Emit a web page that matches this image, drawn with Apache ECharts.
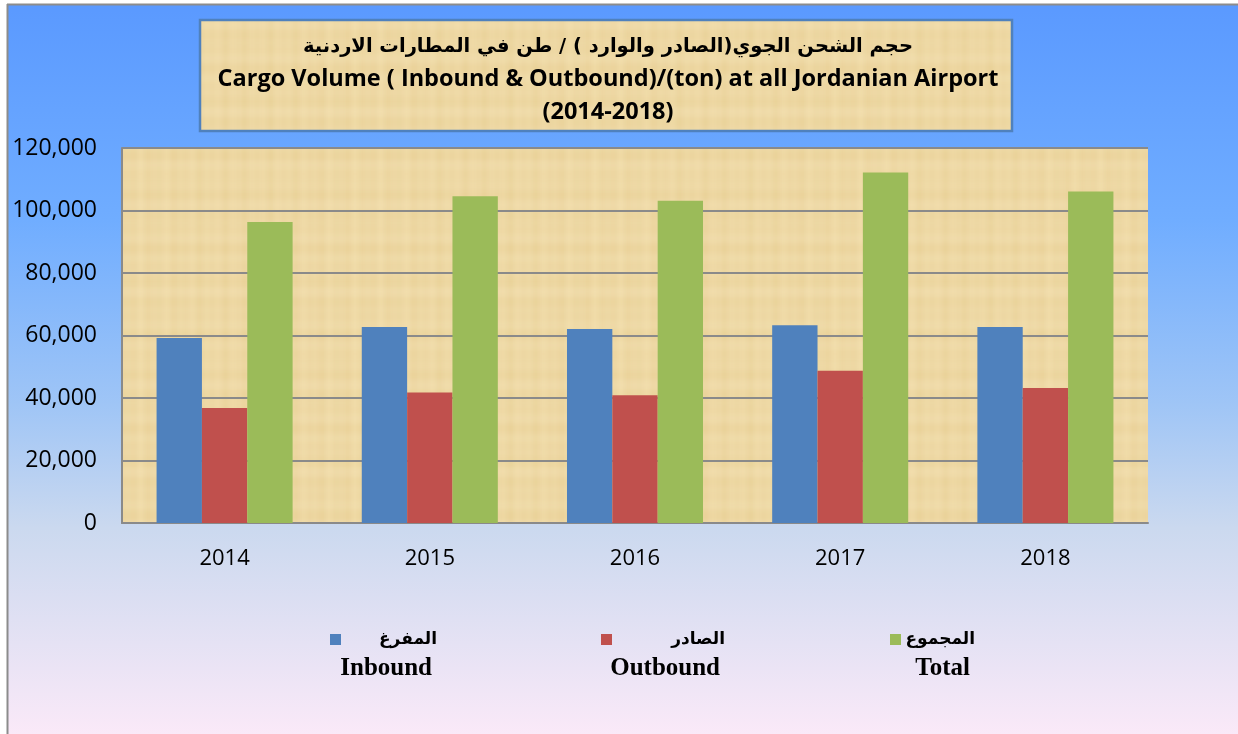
<!DOCTYPE html>
<html>
<head>
<meta charset="utf-8">
<script src="https://cdn.jsdelivr.net/npm/echarts@6/dist/echarts.min.js"></script>
<style>
html,body{margin:0;padding:0;background:#fff;}
#main{width:1238px;height:734px;}
</style>
</head>
<body>
<div id="main"></div>
<script>
// ---- data ----
const years = ['2014', '2015', '2016', '2017', '2018'];
const inbound = [59200, 62700, 62100, 63300, 62700];
const outbound = [36800, 41800, 40900, 48700, 43200];
const total = [96300, 104600, 103100, 112200, 106100];
const seriesNamesAr = ['المفرغ', 'الصادر', 'المجموع'];
const seriesNamesEn = ['Inbound', 'Outbound', 'Total'];
const titleAr = 'حجم الشحن الجوي(الصادر والوارد ) / طن في المطارات الاردنية';
const titleEn = 'Cargo Volume ( Inbound & Outbound)/(ton) at all Jordanian Airport';
const titleYears = '(2014-2018)';
const yTicks = {min: 0, max: 120000, interval: 20000};

// ---- style ----
const colors = ['#4f81bd', '#c0504d', '#9bbb59'];
const titleFont = "'Open Sans', 'DejaVu Sans', sans-serif";
const axisFont = "'Open Sans', 'Liberation Sans', sans-serif";
const serifFont = "'Liberation Serif', 'DejaVu Serif', serif";

// decorative parchment texture (deterministic)
function makeParchment() {
  const c = document.createElement('canvas');
  c.width = 240; c.height = 180;
  const g = c.getContext('2d');
  g.fillStyle = '#efd9a4';
  g.fillRect(0, 0, c.width, c.height);
  for (let x = 0; x < c.width; x++) {
    const a = 0.5 + 0.5 * Math.sin(x * 0.37) * Math.sin(x * 0.113 + 1.3);
    g.fillStyle = 'rgba(190,145,60,' + (a * 0.09).toFixed(3) + ')';
    g.fillRect(x, 0, 1, c.height);
  }
  for (let y = 0; y < c.height; y++) {
    const a = 0.5 + 0.5 * Math.sin(y * 0.29 + 0.7) * Math.sin(y * 0.071);
    g.fillStyle = 'rgba(255,245,215,' + (a * 0.18).toFixed(3) + ')';
    g.fillRect(0, y, c.width, 1);
  }
  return c;
}
const parchment = {image: makeParchment(), repeat: 'repeat'};

const chart = echarts.init(document.getElementById('main'), null, {renderer: 'canvas'});

const legendPos = [
  {left: 325, width: 91},
  {left: 596, width: 108},
  {left: 885, width: 69}
];
const engRight = [432, 720, 970];

const seriesData = [inbound, outbound, total];

const option = {
  backgroundColor: {
    type: 'linear', x: 0, y: 0, x2: 0, y2: 1,
    colorStops: [
      {offset: 0, color: '#5a99ff'},
      {offset: 0.3, color: '#70adff'},
      {offset: 0.55, color: '#9fc5f6'},
      {offset: 0.72, color: '#cbd9ef'},
      {offset: 1, color: '#fae9f8'}
    ]
  },
  animation: false,
  title: {
    text: '{ar|' + titleAr + '}\n{en|' + titleEn + '}\n{en|' + titleYears + '}',
    left: 603,
    top: 25,
    textAlign: 'center',
    textStyle: {
      fontFamily: titleFont,
      fontWeight: 'bold',
      fontSize: 23.5,
      lineHeight: 33,
      color: '#000',
      rich: {
        ar: {fontFamily: "'DejaVu Sans', sans-serif", fontWeight: 'bold', fontSize: 19.5, lineHeight: 33, color: '#000'},
        en: {fontFamily: titleFont, fontWeight: 'bold', fontSize: 23.5, lineHeight: 33, color: '#000'}
      }
    }
  },
  grid: {
    left: 122, right: 90, top: 148, bottom: 211,
    show: true,
    backgroundColor: parchment,
    borderWidth: 0
  },
  legend: seriesNamesAr.map((n, i) => ({
    data: [n],
    left: legendPos[i].left,
    top: 626,
    itemWidth: 11,
    itemHeight: 11,
    icon: 'rect',
    selectedMode: false,
    formatter: '{a|{name}}',
    textStyle: {
      rich: {
        a: {
          width: legendPos[i].width,
          align: 'right',
          fontFamily: "'DejaVu Sans', sans-serif",
          fontWeight: 'bold',
          fontSize: 17,
          color: '#000'
        }
      }
    }
  })),
  xAxis: {
    type: 'category',
    data: years,
    axisLine: {show: true, lineStyle: {color: '#8a8a8a', width: 2}},
    axisTick: {show: false},
    axisLabel: {margin: 25, fontFamily: axisFont, fontSize: 22, color: '#000'}
  },
  yAxis: {
    type: 'value',
    min: yTicks.min, max: yTicks.max, interval: yTicks.interval,
    axisLine: {show: true, lineStyle: {color: '#8a8a8a', width: 2}},
    axisTick: {show: false},
    axisLabel: {margin: 25, fontFamily: axisFont, fontSize: 23, color: '#000',
      formatter: v => v.toLocaleString('en-US')},
    splitLine: {show: true, lineStyle: {color: '#8a8a8a', width: 2}}
  },
  series: seriesNamesAr.map((n, i) => ({
    name: n,
    type: 'bar',
    data: seriesData[i],
    barGap: '0%',
    barCategoryGap: '33.7%',
    itemStyle: {color: colors[i]}
  })),
  graphic: [
    {type: 'rect', shape: {x: 0, y: 0, width: 7, height: 734}, style: {fill: '#fff'}, z: 100, silent: true},
    {type: 'rect', shape: {x: 0, y: 0, width: 1238, height: 4}, style: {fill: '#fff'}, z: 100, silent: true},
    {type: 'line', shape: {x1: 7.5, y1: 4, x2: 7.5, y2: 734}, style: {stroke: '#8c8c8c', lineWidth: 2}, z: 100, silent: true},
    {type: 'line', shape: {x1: 7, y1: 4.5, x2: 1238, y2: 4.5}, style: {stroke: '#8c8c8c', lineWidth: 2}, z: 100, silent: true},
    {type: 'rect', shape: {x: 200, y: 20, width: 812, height: 111},
      style: {fill: parchment, stroke: '#4f81bd', lineWidth: 2.5}, z: -1, silent: true}
  ].concat(seriesNamesEn.map((t, i) => ({
    type: 'text',
    x: engRight[i], y: 669,
    style: {
      text: t, align: 'right', verticalAlign: 'middle',
      font: 'bold 25px ' + serifFont, fill: '#000'
    },
    z: 10, silent: true
  })))
};

chart.setOption(option);
</script>
</body>
</html>
